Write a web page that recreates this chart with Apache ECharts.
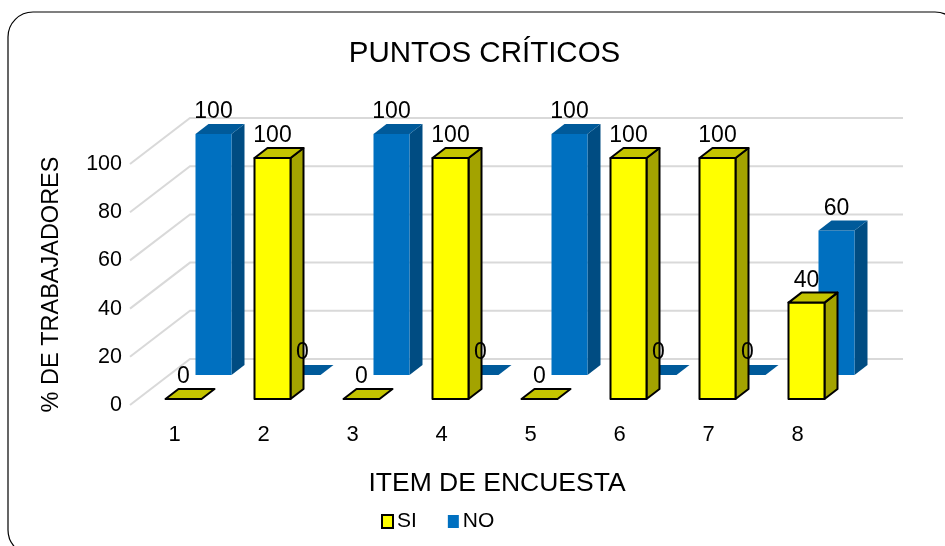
<!DOCTYPE html>
<html>
<head>
<meta charset="utf-8">
<style>
	html, body { margin: 0; padding: 0; background: #fff; }
	#main { width: 945px; height: 546px; }
</style>
<script src="https://cdn.jsdelivr.net/npm/echarts@6/dist/echarts.min.js"></script>
</head>
<body>
<div id="main"></div>
<script>
	var categories = ['1', '2', '3', '4', '5', '6', '7', '8'];
	var siValues = [0, 100, 0, 100, 0, 100, 100, 40];
	var noValues = [100, 0, 100, 0, 100, 0, 0, 60];
	var tickValues = [0, 20, 40, 60, 80, 100];

	var font = '"Liberation Sans", Arial, sans-serif';
	var mychart = echarts.init(document.getElementById('main'));

	// fake 3D: depth vector of the box and position inside the floor
	var depthX = 13, depthY = -10;
	var wallX = 60, wallY = -46;

	function barRender(shiftX, shiftY, colors, stroke) {
		return function(params, api) {
			var p = api.coord([api.value(0), api.value(1)]);
			var base = api.coord([api.value(0), 0]);
			var w = api.size([1, 0])[0] * 36 / 89;
			var x = p[0] + shiftX - w / 2;
			var y1 = p[1] + shiftY;
			var y0 = base[1] + shiftY;
			var line = { stroke: stroke, lineWidth: stroke ? 2 : 0, lineJoin: 'round' };
			var children = [];
			if (y0 - y1 > 0.5) {
				children.push({
					type: 'polygon',
					shape: { points: [[x + w, y1], [x + w + depthX, y1 + depthY], [x + w + depthX, y0 + depthY], [x + w, y0]] },
					style: Object.assign({ fill: colors.side }, line)
				});
				children.push({
					type: 'rect',
					shape: { x: x, y: y1, width: w, height: y0 - y1 },
					style: Object.assign({ fill: colors.front }, line)
				});
			}
			children.push({
				type: 'polygon',
				shape: { points: [[x, y1], [x + depthX, y1 + depthY], [x + w + depthX, y1 + depthY], [x + w, y1]] },
				style: Object.assign({ fill: colors.top }, line)
			});
			children.push({
				type: 'text',
				z2: 100,
				style: {
					x: x + w / 2,
					y: y1 - 22,
					text: String(api.value(1)),
					fill: '#000',
					font: '23px ' + font,
					align: 'center',
					verticalAlign: 'middle'
				}
			});
			return { type: 'group', children: children };
		};
	}

	function wallRender(params, api) {
		var cs = params.coordSys;
		var p = api.coord([0, api.value(0)]);
		return {
			type: 'polyline',
			shape: { points: [[cs.x, p[1]], [cs.x + wallX, p[1] + wallY], [cs.x + cs.width + 61, p[1] + wallY]] },
			style: { fill: null, stroke: '#d9d9d9', lineWidth: 2 }
		};
	}

	var option = {
		backgroundColor: '#fff',
		animation: false,
		title: [{
			text: 'PUNTOS CRÍTICOS',
			left: 479.5, top: 49, textAlign: 'center', textVerticalAlign: 'middle',
			textStyle: { fontFamily: font, fontSize: 29.5, fontWeight: 'normal', color: '#000' }
		}, {
			text: 'ITEM DE ENCUESTA',
			left: 492, top: 479, textAlign: 'center', textVerticalAlign: 'middle',
			textStyle: { fontFamily: font, fontSize: 26.5, fontWeight: 'normal', color: '#000' }
		}],
		legend: {
			data: ['SI', 'NO'],
			left: 376, top: 506,
			itemWidth: 11, itemHeight: 13, itemGap: 31,
			icon: 'rect',
			textStyle: { fontFamily: font, fontSize: 21, color: '#000', padding: [0, 0, 0, -1] }
		},
		grid: { left: 130, right: 103, top: 164, bottom: 141 },
		xAxis: {
			type: 'category',
			data: categories,
			axisLine: { show: false },
			axisTick: { show: false },
			axisLabel: { color: '#000', fontFamily: font, fontSize: 22, margin: 19 }
		},
		yAxis: {
			type: 'value',
			min: 0, max: 100, interval: 20,
			name: '% DE TRABAJADORES',
			nameLocation: 'middle',
			nameGap: 66,
			nameTextStyle: { color: '#000', fontFamily: font, fontSize: 23.5 },
			axisLine: { show: false },
			axisTick: { show: false },
			splitLine: { show: false },
			axisLabel: { color: '#000', fontFamily: font, fontSize: 21.5, margin: 8 }
		},
		graphic: [{
			type: 'rect',
			silent: true,
			z: -1,
			shape: { x: 8, y: 12, width: 952, height: 543, r: 25 },
			style: { fill: '#fff', stroke: '#000', lineWidth: 1.2 }
		}],
		series: [{
			type: 'custom',
			name: 'wall',
			data: tickValues.map(function(v) { return [v]; }),
			encode: { y: 0 },
			renderItem: wallRender,
			silent: true
		}, {
			type: 'custom',
			name: 'NO',
			data: categories.map(function(c, i) { return [i, noValues[i]]; }),
			itemStyle: { color: '#0070c0' },
			renderItem: barRender(39, -30, { front: '#0070c0', top: '#005a9a', side: '#004c82' }, null)
		}, {
			type: 'custom',
			name: 'SI',
			data: categories.map(function(c, i) { return [i, siValues[i]]; }),
			itemStyle: { color: '#ffff00', borderColor: '#000', borderWidth: 1.5 },
			renderItem: barRender(9, -6, { front: '#ffff00', top: '#c4c400', side: '#a3a300' }, '#000')
		}]
	};
	mychart.setOption(option);
</script>
</body>
</html>
